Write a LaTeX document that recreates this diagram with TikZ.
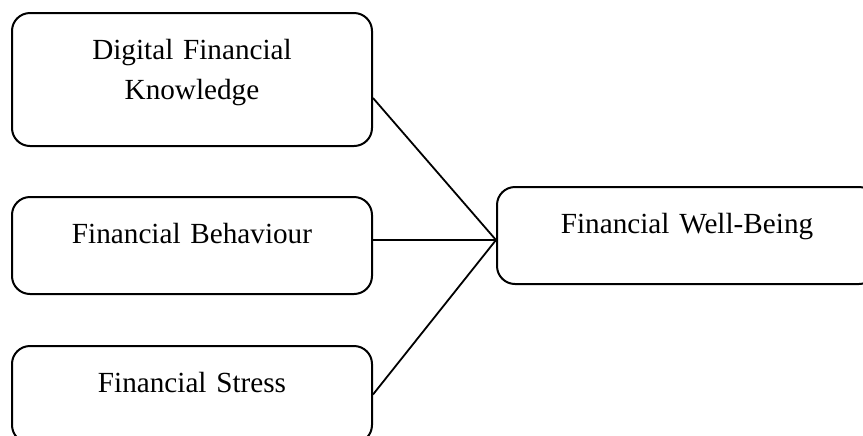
\documentclass[tikz,border=0pt]{standalone}
\usepackage{fontspec}
\setmainfont{Liberation Serif}
\usepackage{tikz}

\tikzset{
  factorBox/.style={draw, line width=1pt, rounded corners=9pt, inner sep=0pt,
    align=center, font=\fontsize{14.6pt}{20pt}\selectfont, text height=23pt},
  linkLine/.style={line width=0.9pt}
}

\begin{document}
\begin{tikzpicture}[x=0.5pt, y=-0.5pt]
        \clip (0,0) rectangle (863,435);
        % three predictors on the left
        \node[factorBox, text width=180pt, text depth=43.5pt] (dfk) at (192,79.5) {Digital Financial\\Knowledge};
        \node[factorBox, text width=180pt, text depth=25.5pt] (fb) at (192,245.5) {Financial Behaviour};
        \node[factorBox, text width=180pt, text depth=25.5pt] (fs) at (192,394.5) {Financial Stress};
        % outcome on the right
        \node[factorBox, text width=190pt, text depth=25.5pt] (fwb) at (687,235.5) {Financial Well-Being};
        \coordinate (hub) at ([yshift=-2.25pt]fwb.west);
        % links
        \draw[linkLine] ([yshift=-9.25pt]dfk.east) -- (hub);
        \draw[linkLine] ([yshift=2.75pt]fb.east) -- (hub);
        \draw[linkLine] (fs.east) -- (hub);
      \end{tikzpicture}
\end{document}
